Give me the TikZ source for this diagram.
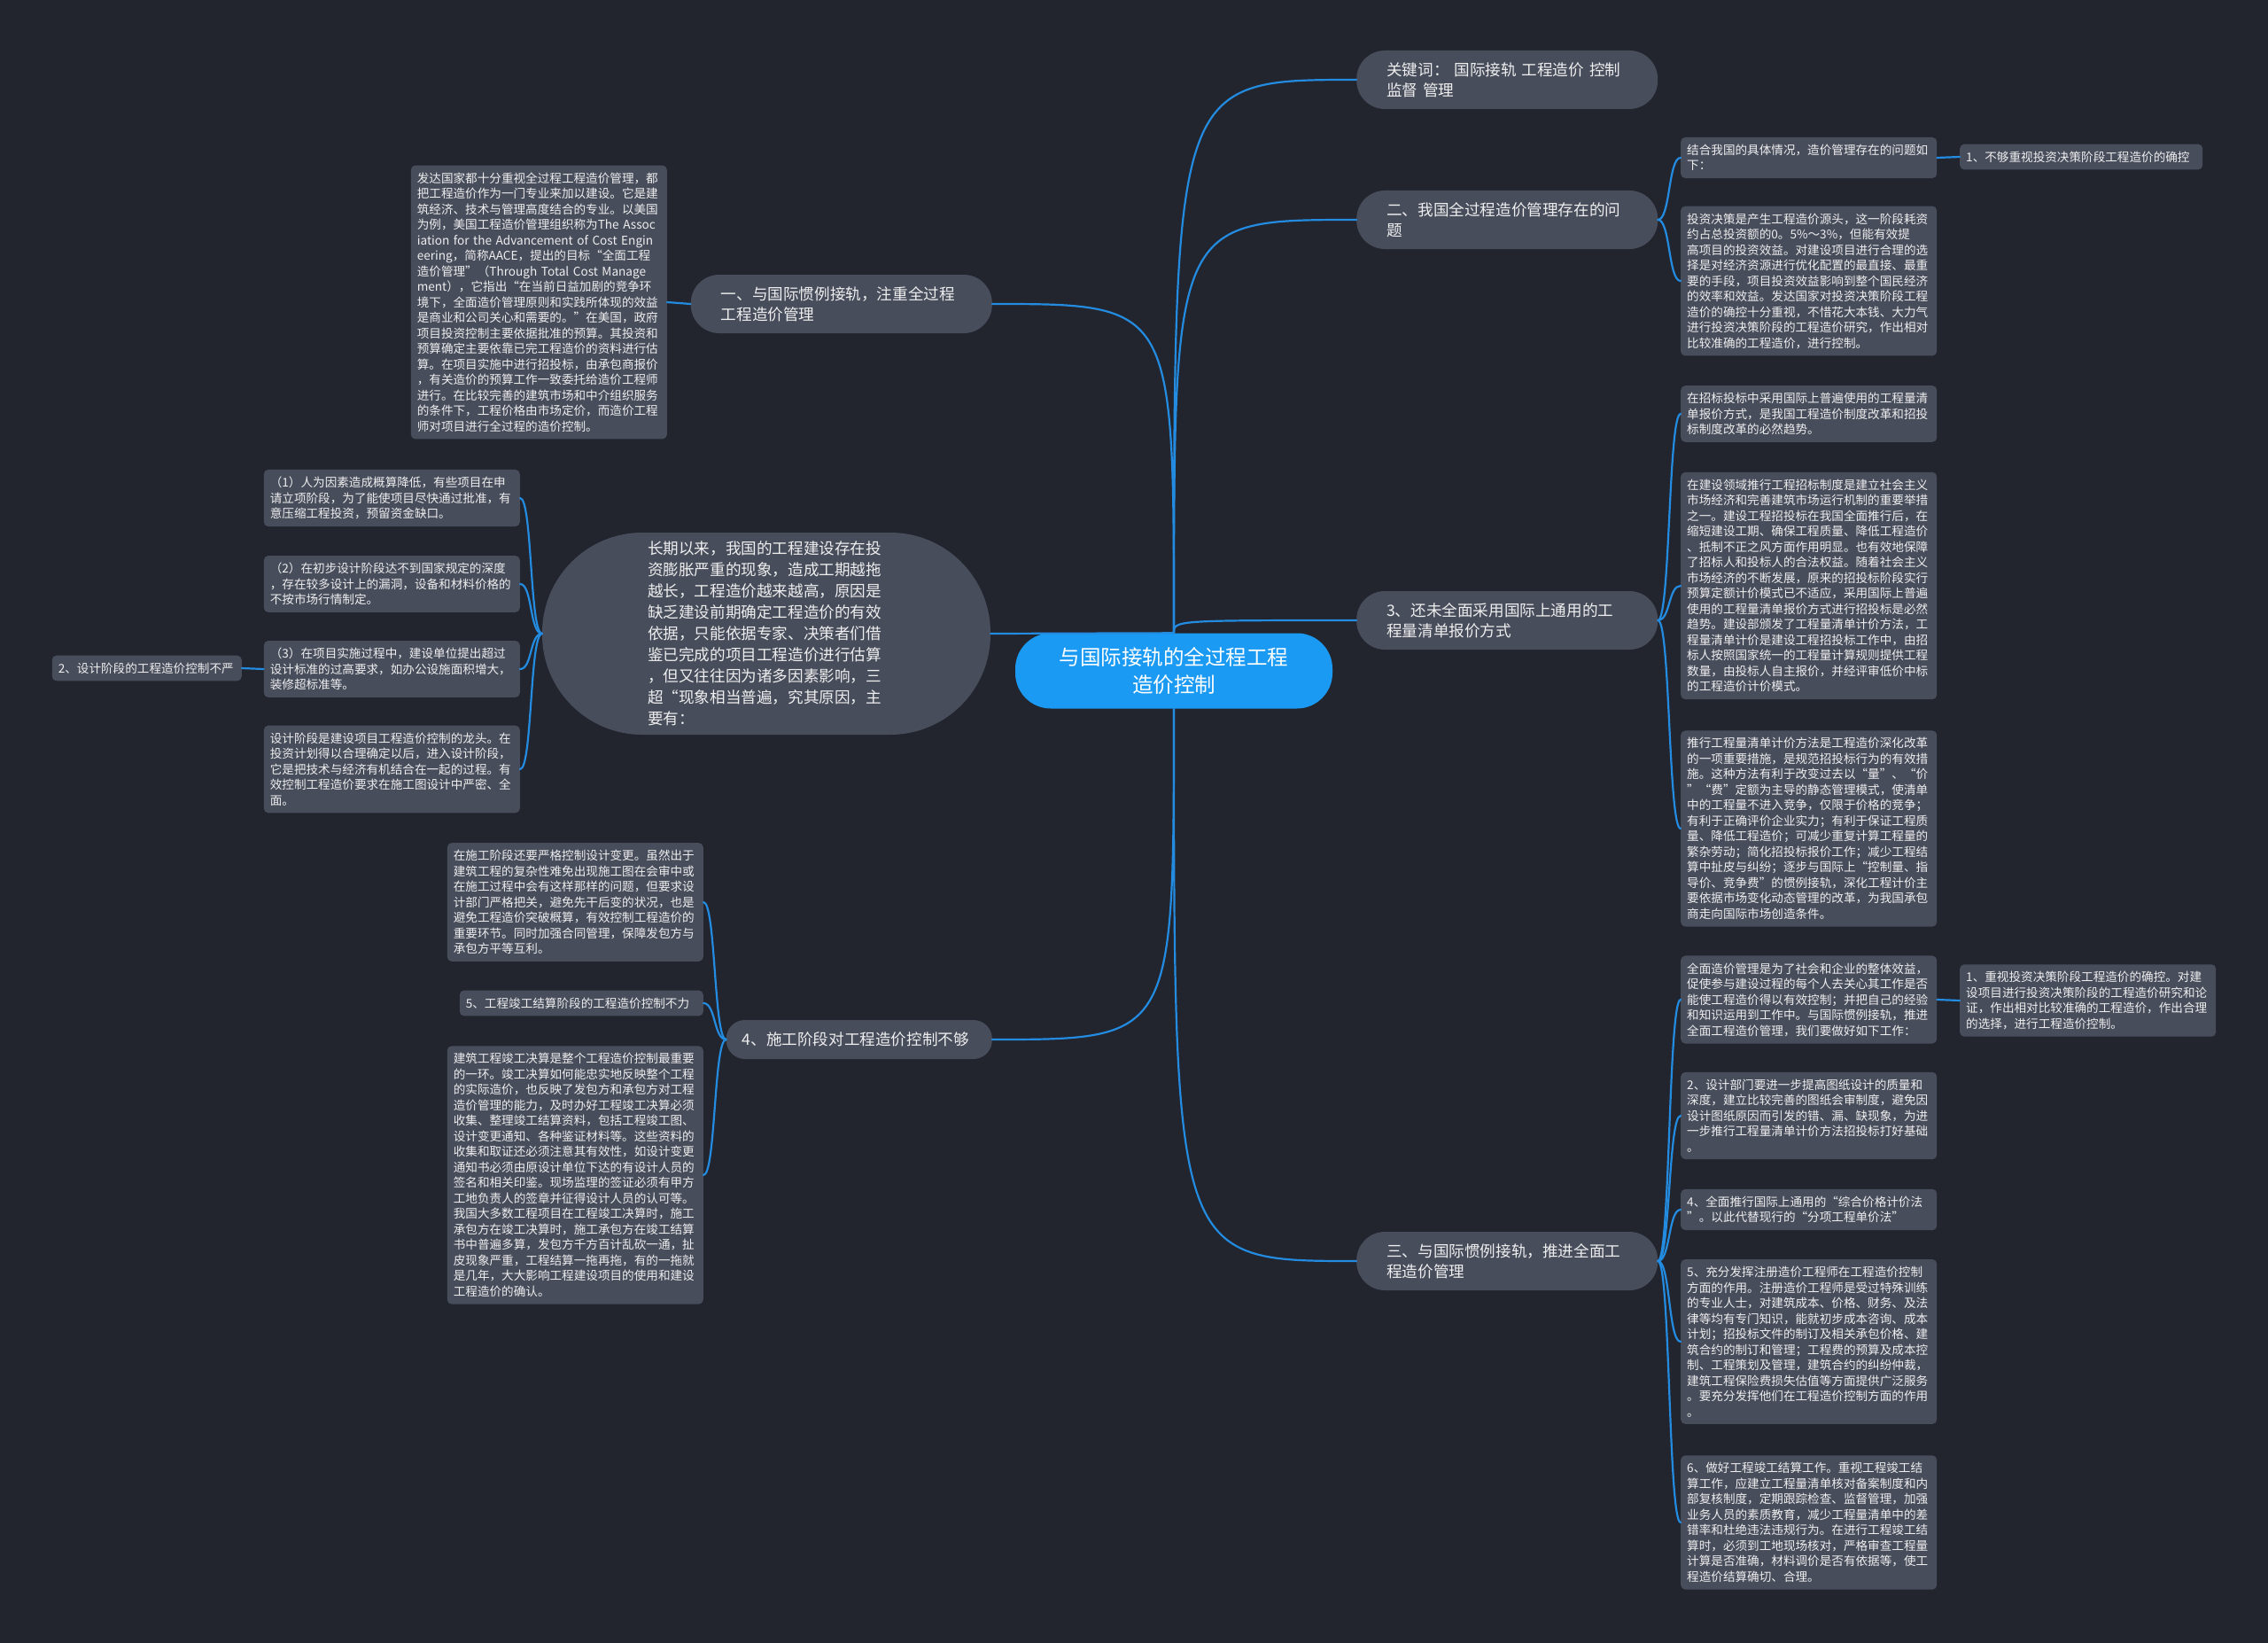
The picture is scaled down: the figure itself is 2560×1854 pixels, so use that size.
\documentclass[tikz,border=0pt]{standalone}
\usepackage{fontspec}
\setmainfont{Noto Sans CJK SC}
\definecolor{bgdark}{RGB}{34,37,46}
\definecolor{boxgray}{RGB}{72,77,92}
\definecolor{rootblue}{RGB}{27,154,244}
\definecolor{linkblue}{RGB}{35,140,225}
\definecolor{txt}{RGB}{238,238,238}

\begin{document}
\begin{tikzpicture}[x=1pt,y=-1pt,line cap=round,line join=round,
  root/.style={fill=rootblue,text=white,rounded corners=40pt,minimum width=358pt,minimum height=85pt,align=center,font=\fontsize{23.5}{31}\selectfont},
  topic/.style={fill=boxgray,text=txt,rounded corners=32pt,text width=272pt,inner xsep=34pt,inner ysep=8pt,minimum height=66pt,align=left,font=\fontsize{17.6}{23}\selectfont},
  oval/.style={fill=boxgray,text=txt,rounded corners=113pt,minimum width=506pt,minimum height=228pt,text width=268pt,align=left,font=\fontsize{17.6}{24}\selectfont},
  leaf/.style={fill=boxgray,text=txt,rounded corners=5pt,text width=275pt,inner xsep=7pt,inner ysep=8pt,align=left,font=\fontsize{13.6}{17.5}\selectfont},
  link/.style={draw=linkblue,line width=2.2pt}]
\useasboundingbox (0,0) rectangle (2560,1854);
\fill[bgdark] (0,0) rectangle (2560,1854);

% centre and main topics
\node[root] (C) at (1325,757) {与国际接轨的全过程工程\\造价控制};
\node[topic,anchor=west] (K) at (1531,90) {\mbox{关键词：\ 国际接轨 工程造价 控制}\\监督 管理};
\node[topic,anchor=west] (B2) at (1531,248) {二、我国全过程造价管理存在的问\\题};
\node[topic,anchor=west] (B3) at (1531,700) {3、还未全面采用国际上通用的工\\程量清单报价方式};
\node[topic,anchor=west] (B5) at (1531,1423) {三、与国际惯例接轨，推进全面工\\程造价管理};
\node[topic,anchor=east] (B1) at (1120,343) {一、与国际惯例接轨，注重全过程\\工程造价管理};
\node[topic,anchor=east,text width=264pt,inner xsep=18pt,minimum height=44pt,rounded corners=21pt] (B4) at (1120,1173) {4、施工阶段对工程造价控制不够};
\node[oval] (E) at (865,715) {长期以来，我国的工程建设存在投\\资膨胀严重的现象，造成工期越拖\\越长，工程造价越来越高，原因是\\缺乏建设前期确定工程造价的有效\\依据，只能依据专家、决策者们借\\鉴已完成的项目工程造价进行估算\\，但又往往因为诸多因素影响，三\\超“现象相当普遍，究其原因，主\\要有：};

% left side
\node[leaf,anchor=east] (L1) at (753,341) {发达国家都十分重视全过程工程造价管理，都\\把工程造价作为一门专业来加以建设。它是建\\筑经济、技术与管理高度结合的专业。以美国\\为例，美国工程造价管理组织称为\mbox{The Assoc}\\\mbox{iation for the Advancement of Cost Engin}\\eering，简称AACE，提出的目标“全面工程\\\mbox{造价管理”（Through Total Cost Manage}\\ment），它指出“在当前日益加剧的竞争环\\境下，全面造价管理原则和实践所体现的效益\\是商业和公司关心和需要的。”在美国，政府\\项目投资控制主要依据批准的预算。其投资和\\预算确定主要依靠已完工程造价的资料进行估\\算。在项目实施中进行招投标，由承包商报价\\，有关造价的预算工作一致委托给造价工程师\\进行。在比较完善的建筑市场和中介组织服务\\的条件下，工程价格由市场定价，而造价工程\\师对项目进行全过程的造价控制。};
\node[leaf,anchor=east] (P1) at (587,562) {（1）人为因素造成概算降低，有些项目在申\\请立项阶段，为了能使项目尽快通过批准，有\\意压缩工程投资，预留资金缺口。};
\node[leaf,anchor=east] (P2) at (587,659) {（2）在初步设计阶段达不到国家规定的深度\\，存在较多设计上的漏洞，设备和材料价格的\\不按市场行情制定。};
\node[leaf,anchor=east] (P3) at (587,755) {（3）在项目实施过程中，建设单位提出超过\\设计标准的过高要求，如办公设施面积增大，\\装修超标准等。};
\node[leaf,anchor=east] (P4) at (587,868) {设计阶段是建设项目工程造价控制的龙头。在\\投资计划得以合理确定以后，进入设计阶段，\\它是把技术与经济有机结合在一起的过程。有\\效控制工程造价要求在施工图设计中严密、全\\面。};
\node[leaf,anchor=east,text width=200pt] (P5) at (273,754) {2、设计阶段的工程造价控制不严};
\node[leaf,anchor=east] (Q1) at (794,1018) {在施工阶段还要严格控制设计变更。虽然出于\\建筑工程的复杂性难免出现施工图在会审中或\\在施工过程中会有这样那样的问题，但要求设\\计部门严格把关，避免先干后变的状况，也是\\避免工程造价突破概算，有效控制工程造价的\\重要环节。同时加强合同管理，保障发包方与\\承包方平等互利。};
\node[leaf,anchor=east,text width=261pt] (Q2) at (794,1132) {5、工程竣工结算阶段的工程造价控制不力};
\node[leaf,anchor=east] (Q3) at (794,1326) {建筑工程竣工决算是整个工程造价控制最重要\\的一环。竣工决算如何能忠实地反映整个工程\\的实际造价，也反映了发包方和承包方对工程\\造价管理的能力，及时办好工程竣工决算必须\\收集、整理竣工结算资料，包括工程竣工图、\\设计变更通知、各种鉴证材料等。这些资料的\\收集和取证还必须注意其有效性，如设计变更\\通知书必须由原设计单位下达的有设计人员的\\签名和相关印鉴。现场监理的签证必须有甲方\\工地负责人的签章并征得设计人员的认可等。\\我国大多数工程项目在工程竣工决算时，施工\\承包方在竣工决算时，施工承包方在竣工结算\\书中普遍多算，发包方千方百计乱砍一通，扯\\皮现象严重，工程结算一拖再拖，有的一拖就\\是几年，大大影响工程建设项目的使用和建设\\工程造价的确认。};

% right side
\node[leaf,anchor=west] (R1) at (1897,178) {结合我国的具体情况，造价管理存在的问题如\\下：};
\node[leaf,anchor=west,text width=260pt] (R1a) at (2212,177) {1、不够重视投资决策阶段工程造价的确控};
\node[leaf,anchor=west] (R2) at (1897,317) {投资决策是产生工程造价源头，这一阶段耗资\\约占总投资额的0。5\%～3\%，但能有效提\\高项目的投资效益。对建设项目进行合理的选\\择是对经济资源进行优化配置的最直接、最重\\要的手段，项目投资效益影响到整个国民经济\\的效率和效益。发达国家对投资决策阶段工程\\造价的确控十分重视，不惜花大本钱、大力气\\进行投资决策阶段的工程造价研究，作出相对\\比较准确的工程造价，进行控制。};
\node[leaf,anchor=west] (R3) at (1897,467) {在招标投标中采用国际上普遍使用的工程量清\\单报价方式，是我国工程造价制度改革和招投\\标制度改革的必然趋势。};
\node[leaf,anchor=west] (R4) at (1897,661) {在建设领域推行工程招标制度是建立社会主义\\市场经济和完善建筑市场运行机制的重要举措\\之一。建设工程招投标在我国全面推行后，在\\缩短建设工期、确保工程质量、降低工程造价\\、抵制不正之风方面作用明显。也有效地保障\\了招标人和投标人的合法权益。随着社会主义\\市场经济的不断发展，原来的招投标阶段实行\\预算定额计价模式已不适应，采用国际上普遍\\使用的工程量清单报价方式进行招投标是必然\\趋势。建设部颁发了工程量清单计价方法，工\\程量清单计价是建设工程招投标工作中，由招\\标人按照国家统一的工程量计算规则提供工程\\数量，由投标人自主报价，并经评审低价中标\\的工程造价计价模式。};
\node[leaf,anchor=west] (R5) at (1897,935) {推行工程量清单计价方法是工程造价深化改革\\的一项重要措施，是规范招投标行为的有效措\\施。这种方法有利于改变过去以“量”、“价\\”“费”定额为主导的静态管理模式，使清单\\中的工程量不进入竞争，仅限于价格的竞争；\\有利于正确评价企业实力；有利于保证工程质\\量、降低工程造价；可减少重复计算工程量的\\繁杂劳动；简化招投标报价工作；减少工程结\\算中扯皮与纠纷；逐步与国际上“控制量、指\\导价、竞争费”的惯例接轨，深化工程计价主\\要依据市场变化动态管理的改革，为我国承包\\商走向国际市场创造条件。};
\node[leaf,anchor=west] (R6) at (1897,1128) {全面造价管理是为了社会和企业的整体效益，\\促使参与建设过程的每个人去关心其工作是否\\能使工程造价得以有效控制；并把自己的经验\\和知识运用到工作中。与国际惯例接轨，推进\\全面工程造价管理，我们要做好如下工作：};
\node[leaf,anchor=west] (R6a) at (2212,1129) {1、重视投资决策阶段工程造价的确控。对建\\设项目进行投资决策阶段的工程造价研究和论\\证，作出相对比较准确的工程造价，作出合理\\的选择，进行工程造价控制。};
\node[leaf,anchor=west] (R7) at (1897,1259) {2、设计部门要进一步提高图纸设计的质量和\\深度，建立比较完善的图纸会审制度，避免因\\设计图纸原因而引发的错、漏、缺现象，为进\\一步推行工程量清单计价方法招投标打好基础\\。};
\node[leaf,anchor=west] (R8) at (1897,1365) {4、全面推行国际上通用的“综合价格计价法\\”。以此代替现行的“分项工程单价法”};
\node[leaf,anchor=west] (R9) at (1897,1514) {5、充分发挥注册造价工程师在工程造价控制\\方面的作用。注册造价工程师是受过特殊训练\\的专业人士，对建筑成本、价格、财务、及法\\律等均有专门知识，能就初步成本咨询、成本\\计划；招投标文件的制订及相关承包价格、建\\筑合约的制订和管理；工程费的预算及成本控\\制、工程策划及管理，建筑合约的纠纷仲裁，\\建筑工程保险费损失估值等方面提供广泛服务\\。要充分发挥他们在工程造价控制方面的作用\\。};
\node[leaf,anchor=west] (R10) at (1897,1718) {6、做好工程竣工结算工作。重视工程竣工结\\算工作，应建立工程量清单核对备案制度和内\\部复核制度，定期跟踪检查、监督管理，加强\\业务人员的素质教育，减少工程量清单中的差\\错率和杜绝违法违规行为。在进行工程竣工结\\算时，必须到工地现场核对，严格审查工程量\\计算是否准确，材料调价是否有依据等，使工\\程造价结算确切、合理。};

% links from the centre
\draw[link] (C.north) .. controls (C.north |- K.west) .. (K.west);
\draw[link] (C.north) .. controls (C.north |- B2.west) .. (B2.west);
\draw[link] (C.north) .. controls (C.north |- B3.west) .. (B3.west);
\draw[link] (C.south) .. controls (C.south |- B5.west) .. (B5.west);
\draw[link] (C.north) .. controls (C.north |- B1.east) .. (B1.east);
\draw[link] (C.south) .. controls (C.south |- B4.east) .. (B4.east);
\draw[link] (C.north) -- (E.east);

% right branches
\foreach \t in {R1,R2}
  \draw[link] (B2.east) .. controls +(14,0) and +(-14,0) .. (\t.west);
\foreach \t in {R3,R4,R5}
  \draw[link] (B3.east) .. controls +(14,0) and +(-14,0) .. (\t.west);
\foreach \t in {R6,R7,R8,R9,R10}
  \draw[link] (B5.east) .. controls +(14,0) and +(-14,0) .. (\t.west);
\draw[link] (R1.east) -- (R1a.west);
\draw[link] (R6.east) -- (R6a.west);

% left branches
\draw[link] (B1.west) -- (L1.east);
\foreach \t in {P1,P2,P3,P4}
  \draw[link] (E.west) .. controls +(-14,0) and +(14,0) .. (\t.east);
\draw[link] (P3.west) -- (P5.east);
\foreach \t in {Q1,Q2,Q3}
  \draw[link] (B4.west) .. controls +(-14,0) and +(14,0) .. (\t.east);

\end{tikzpicture}
\end{document}
